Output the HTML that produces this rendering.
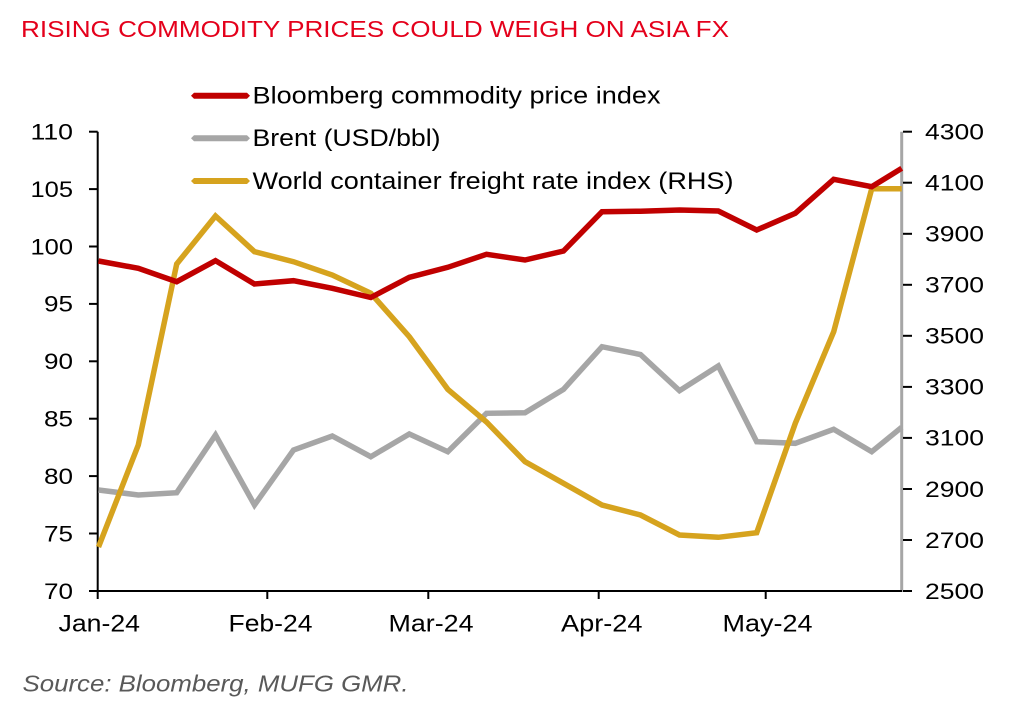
<!DOCTYPE html>
<html>
<head>
<meta charset="utf-8">
<style>
  html, body { margin: 0; padding: 0; background: #ffffff; }
  body { width: 1022px; height: 714px; overflow: hidden; }
  svg { display: block; }
  text { font-family: "Liberation Sans", Arial, sans-serif; }
</style>
</head>
<body>
<svg width="1022" height="714" viewBox="0 0 1022 714" xmlns="http://www.w3.org/2000/svg">
  <rect x="0" y="0" width="1022" height="714" fill="#ffffff"/>

  <!-- Title -->
  <text x="21" y="37" font-size="23" fill="#E4001B" textLength="708" lengthAdjust="spacingAndGlyphs">RISING COMMODITY PRICES COULD WEIGH ON ASIA FX</text>

  <!-- Legend -->
  <g>
    <polygon points="191,95.7 194,92.7 247,92.7 250,95.7 247,98.7 194,98.7" fill="#C00000"/>
    <text x="252.5" y="103.5" font-size="24" fill="#000" textLength="408" lengthAdjust="spacingAndGlyphs">Bloomberg commodity price index</text>
    <polygon points="191,138.3 194,135.3 247,135.3 250,138.3 247,141.3 194,141.3" fill="#A6A6A6"/>
    <text x="252.5" y="146.2" font-size="24" fill="#000" textLength="188" lengthAdjust="spacingAndGlyphs">Brent (USD/bbl)</text>
    <polygon points="191,181 194,178 247,178 250,181 247,184 194,184" fill="#D6A31E"/>
    <text x="252.5" y="189" font-size="24" fill="#000" textLength="481" lengthAdjust="spacingAndGlyphs">World container freight rate index (RHS)</text>
  </g>

  <!-- Axes -->
  <line x1="97.7" y1="131.7" x2="97.7" y2="592" stroke="#000" stroke-width="2"/>
  <line x1="901.7" y1="131.7" x2="901.7" y2="592" stroke="#A6A6A6" stroke-width="3"/>
  <line x1="96.7" y1="591" x2="902" y2="591" stroke="#000" stroke-width="2"/>

  <!-- Left ticks -->
  <g stroke="#000" stroke-width="2">
    <line x1="89" y1="131.7" x2="97.7" y2="131.7"/>
    <line x1="89" y1="189.1" x2="97.7" y2="189.1"/>
    <line x1="89" y1="246.5" x2="97.7" y2="246.5"/>
    <line x1="89" y1="303.9" x2="97.7" y2="303.9"/>
    <line x1="89" y1="361.3" x2="97.7" y2="361.3"/>
    <line x1="89" y1="418.7" x2="97.7" y2="418.7"/>
    <line x1="89" y1="476.1" x2="97.7" y2="476.1"/>
    <line x1="89" y1="533.5" x2="97.7" y2="533.5"/>
    <line x1="89" y1="591" x2="97.7" y2="591"/>
  </g>
  <!-- Right ticks -->
  <g stroke="#000" stroke-width="2">
    <line x1="903" y1="131.7" x2="912" y2="131.7"/>
    <line x1="903" y1="182.7" x2="912" y2="182.7"/>
    <line x1="903" y1="233.8" x2="912" y2="233.8"/>
    <line x1="903" y1="284.8" x2="912" y2="284.8"/>
    <line x1="903" y1="335.8" x2="912" y2="335.8"/>
    <line x1="903" y1="386.9" x2="912" y2="386.9"/>
    <line x1="903" y1="437.9" x2="912" y2="437.9"/>
    <line x1="903" y1="489" x2="912" y2="489"/>
    <line x1="903" y1="540" x2="912" y2="540"/>
    <line x1="903" y1="591" x2="912" y2="591"/>
  </g>
  <!-- Bottom ticks -->
  <g stroke="#000" stroke-width="2">
    <line x1="97.7" y1="591" x2="97.7" y2="599"/>
    <line x1="267.3" y1="591" x2="267.3" y2="599"/>
    <line x1="428.3" y1="591" x2="428.3" y2="599"/>
    <line x1="598.7" y1="591" x2="598.7" y2="599"/>
    <line x1="765.7" y1="591" x2="765.7" y2="599"/>
  </g>

  <!-- Left labels -->
  <g font-size="22" fill="#000">
    <text x="30.5" y="139.5" textLength="42.5" lengthAdjust="spacingAndGlyphs">110</text>
    <text x="30.5" y="196.9" textLength="42.5" lengthAdjust="spacingAndGlyphs">105</text>
    <text x="30.5" y="254.3" textLength="42.5" lengthAdjust="spacingAndGlyphs">100</text>
    <text x="44" y="311.7" textLength="29" lengthAdjust="spacingAndGlyphs">95</text>
    <text x="44" y="369.1" textLength="29" lengthAdjust="spacingAndGlyphs">90</text>
    <text x="44" y="426.5" textLength="29" lengthAdjust="spacingAndGlyphs">85</text>
    <text x="44" y="483.9" textLength="29" lengthAdjust="spacingAndGlyphs">80</text>
    <text x="44" y="541.3" textLength="29" lengthAdjust="spacingAndGlyphs">75</text>
    <text x="44" y="598.8" textLength="29" lengthAdjust="spacingAndGlyphs">70</text>
  </g>
  <!-- Right labels -->
  <g font-size="22" fill="#000">
    <text x="925" y="139.5" textLength="59" lengthAdjust="spacingAndGlyphs">4300</text>
    <text x="925" y="190.5" textLength="59" lengthAdjust="spacingAndGlyphs">4100</text>
    <text x="925" y="241.6" textLength="59" lengthAdjust="spacingAndGlyphs">3900</text>
    <text x="925" y="292.6" textLength="59" lengthAdjust="spacingAndGlyphs">3700</text>
    <text x="925" y="343.6" textLength="59" lengthAdjust="spacingAndGlyphs">3500</text>
    <text x="925" y="394.7" textLength="59" lengthAdjust="spacingAndGlyphs">3300</text>
    <text x="925" y="445.7" textLength="59" lengthAdjust="spacingAndGlyphs">3100</text>
    <text x="925" y="496.8" textLength="59" lengthAdjust="spacingAndGlyphs">2900</text>
    <text x="925" y="547.8" textLength="59" lengthAdjust="spacingAndGlyphs">2700</text>
    <text x="925" y="598.8" textLength="59" lengthAdjust="spacingAndGlyphs">2500</text>
  </g>
  <!-- X labels -->
  <g font-size="24" fill="#000">
    <text x="58.5" y="631.5" textLength="81.5" lengthAdjust="spacingAndGlyphs">Jan-24</text>
    <text x="228.5" y="631.5" textLength="84" lengthAdjust="spacingAndGlyphs">Feb-24</text>
    <text x="388.5" y="631.5" textLength="85" lengthAdjust="spacingAndGlyphs">Mar-24</text>
    <text x="561" y="631.5" textLength="81.5" lengthAdjust="spacingAndGlyphs">Apr-24</text>
    <text x="722.5" y="631.5" textLength="90" lengthAdjust="spacingAndGlyphs">May-24</text>
  </g>

  <!-- Series: Brent (gray) -->
  <polyline fill="none" stroke="#A6A6A6" stroke-width="5.5" stroke-linejoin="miter"
    points="98.5,490 138.3,495 176.7,492.7 215.5,435 254.5,505 293.5,450 332.3,436 370.8,456.7 409.3,434 447.8,451.7 486.5,413.3 525,412.7 563.5,389.3 602,346.7 640.5,354.5 679.5,390.7 718.3,366 756.7,441.7 795.3,443.3 833.7,429.3 871.7,451.7 901.7,427.3"/>
  <!-- Series: Freight (gold) -->
  <polyline fill="none" stroke="#D6A31E" stroke-width="5.5" stroke-linejoin="miter"
    points="98.5,547 138.3,445 176.7,264 215.5,216 254.5,251.7 293.5,261.7 332.3,275 370.8,293.3 409.3,336.7 447.8,389.3 486.5,422 525,461.7 563.5,483.3 602,505 640.5,515 679.5,535 718.3,537.3 756.7,532.7 795.3,423.3 833.7,331.7 871.7,188.8 901.7,188.8"/>
  <!-- Series: Bloomberg (red) -->
  <polyline fill="none" stroke="#C00000" stroke-width="5.5" stroke-linejoin="miter"
    points="98.5,261 138.3,268.3 176.7,281.7 215.5,260.7 254.5,284 293.5,280.7 332.3,288.3 370.8,297.5 409.3,277.3 447.8,267.3 486.5,254.3 525,260 563.5,251 602,211.7 640.5,211.2 679.5,210 718.3,211 756.7,230 795.3,213.3 833.7,179.3 871.7,186.7 901.7,168.3"/>

  <!-- Source -->
  <text x="22.5" y="691.5" font-size="23" font-style="italic" fill="#595959" textLength="386" lengthAdjust="spacingAndGlyphs">Source: Bloomberg, MUFG GMR.</text>
</svg>
</body>
</html>
